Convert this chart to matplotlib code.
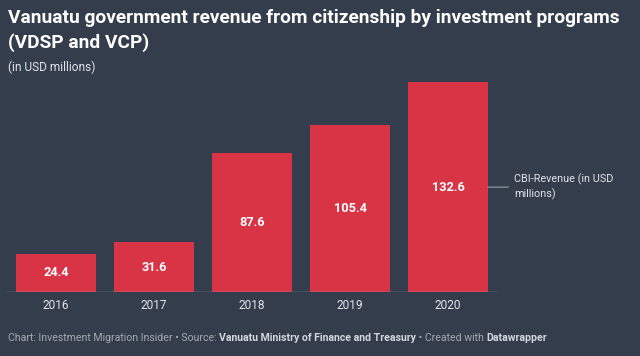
import matplotlib
matplotlib.use('Agg')
from matplotlib import pyplot as plt

years = ['2016', '2017', '2018', '2019', '2020']
revenue = [24.4, 31.6, 87.6, 105.4, 132.6]
series_label = 'CBI-Revenue (in USD\nmillions)'

bg = '#333d4c'
bar_col = '#d93446'
W, H = 640, 356

plt.rcParams['font.family'] = ['Roboto', 'DejaVu Sans']
fig = plt.figure(figsize=(W / 100, H / 100), dpi=100, facecolor=bg)

# axes placed in pixels: left 7, right 497, baseline 292, top of max bar 82
ax = fig.add_axes([7 / W, 1 - 292.3 / H, 490 / W, 210.3 / H])
ax.set_facecolor(bg)
x = list(range(len(years)))
ax.bar(x, revenue, width=0.81, color=bar_col, zorder=2)
ax.set_xlim(-0.5, 4.5)
ax.set_ylim(0, max(revenue))
for s in ax.spines.values():
    s.set_visible(False)
ax.axhline(0, color='#9aa0a8', lw=1, zorder=3)
ax.set_yticks([])
ax.set_xticks(x)
ax.set_xticklabels(years, color='#e2e4e8', fontsize=8.6)
ax.tick_params(axis='x', length=0, pad=5)

for xi, v in zip(x, revenue):
    ax.text(xi, v / 2, f'{v:.1f}', ha='center', va='center', color='white',
            fontsize=9.2, fontweight='bold', zorder=4)

# direct label for series
ax.annotate(series_label, xy=(4 + 0.405, revenue[-1] / 2), xycoords='data',
            xytext=(514 / W, 1 - 187 / H), textcoords='figure fraction',
            va='center', ha='left', color='#e2e4e8', fontsize=7.8,
            linespacing=1.35, annotation_clip=False,
            arrowprops=dict(arrowstyle='-', color='#9aa0a8', lw=0.8,
                            shrinkA=2, shrinkB=0))

fig.text(8 / W, 1 - 30.5 / H, 'Vanuatu government revenue from citizenship by investment programs\n(VDSP and VCP)',
         color='white', fontsize=13.8, fontweight='bold', va='center', ha='left', linespacing=1.38)
fig.text(8 / W, 1 - 67 / H, '(in USD millions)', color='#e2e4e8', fontsize=8.6,
         va='center', ha='left')

# footer with mixed weights
parts = [('Chart: Investment Migration Insider \u2022 Source: ', 'normal', '#a3a9b1'),
         ('Vanuatu Ministry of Finance and Treasury', 'bold', '#d3d6db'),
         (' \u2022 Created with ', 'normal', '#a3a9b1'),
         ('Datawrapper', 'bold', '#d3d6db')]
last = fig.text(8 / W, 1 - 338 / H, parts[0][0], color=parts[0][2], fontweight=parts[0][1],
                fontsize=7.55, va='center', ha='left')
for txt, wt, col in parts[1:]:
    last = ax.annotate(txt, xy=(1, 0.5), xycoords=last, va='center', ha='left',
                       color=col, fontweight=wt, fontsize=7.55, annotation_clip=False)

fig.savefig('out.png', dpi=100, facecolor=bg)
